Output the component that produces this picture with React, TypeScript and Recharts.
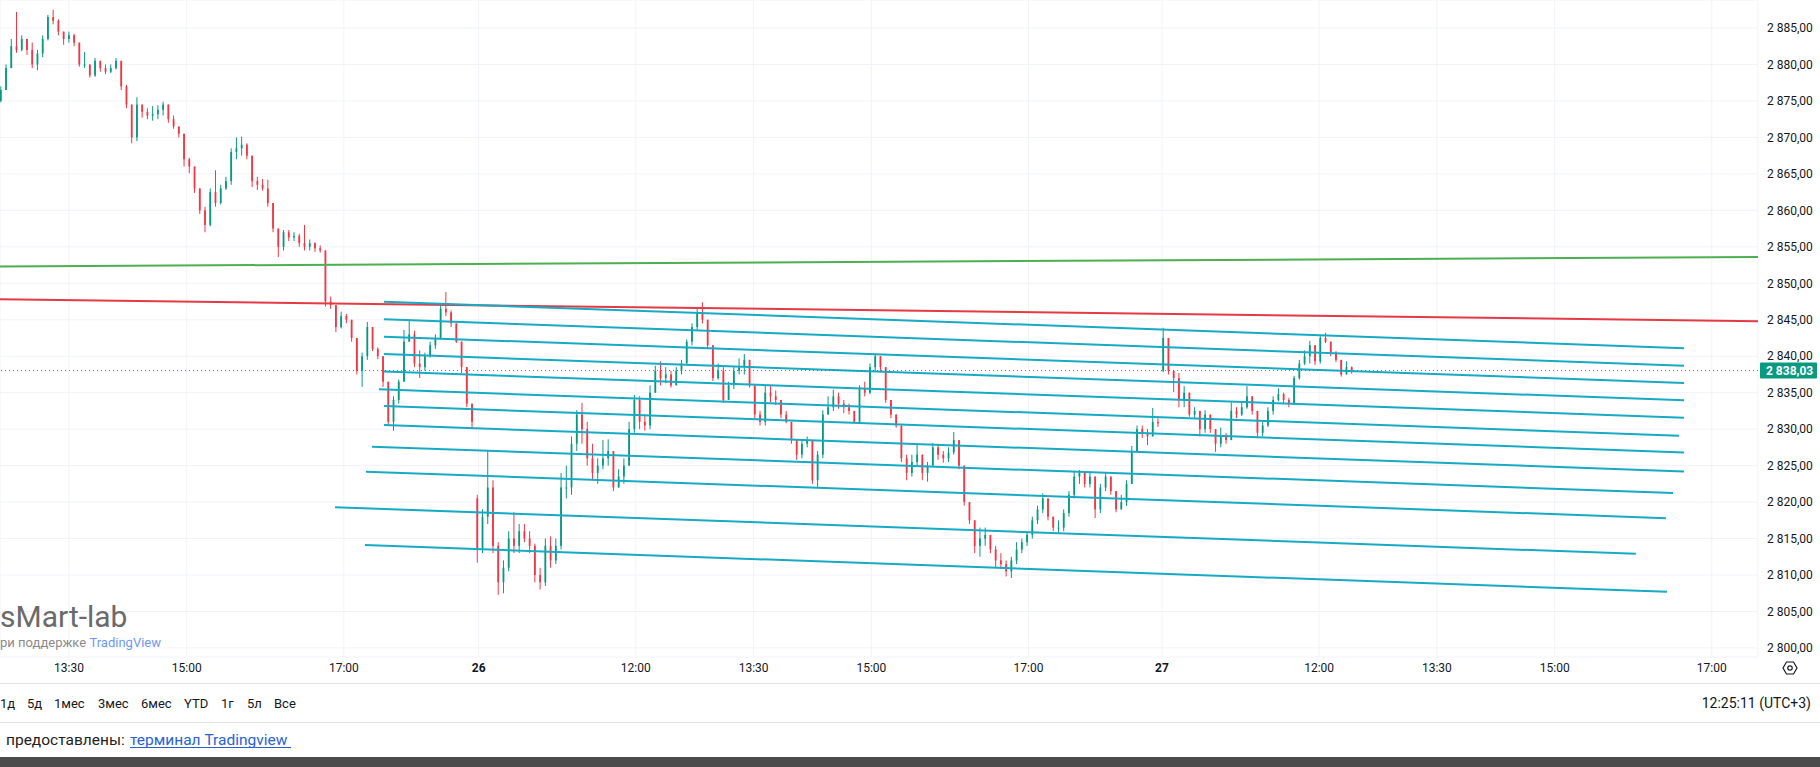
import React from 'react';
import { ComposedChart, Bar, XAxis, YAxis, CartesianGrid, ReferenceLine } from 'recharts';

// one candle every 4 trading minutes; minutes are counted from 13:30 on the 25th
const firstBarMinute = -52;
const barStepMinutes = 4;

const opens = [
  2875, 2876.5, 2879.5, 2882.5, 2882, 2883.5, 2882, 2880, 2881.5, 2883.5,
  2886.5, 2886, 2884.5, 2883.5, 2884, 2883, 2880, 2880, 2878.5, 2880.5,
  2879.5, 2879, 2879.5, 2880.5, 2877, 2874.5, 2870, 2874.5, 2873.5, 2873,
  2873.2, 2873.8, 2874.5, 2872.5, 2871.5, 2870.5, 2867, 2866, 2863, 2860,
  2858, 2862.5, 2861, 2863, 2864, 2868, 2868.5, 2869, 2867.5, 2864,
  2863.5, 2863, 2861, 2857.5, 2855, 2857, 2856.3, 2856.5, 2855.5, 2855,
  2855.5, 2854.8, 2854.5, 2847.5, 2847, 2844, 2845.5, 2845, 2842.5, 2838,
  2840, 2844, 2841, 2840, 2836.5, 2831, 2834, 2836.5, 2842, 2843,
  2839, 2838.5, 2840, 2841.5, 2842.5, 2846.5, 2846, 2844.5, 2842, 2838.5,
  2833.5, 2820.5, 2813.5, 2818, 2822, 2814, 2809, 2811, 2815, 2814,
  2816, 2815, 2814, 2810, 2809, 2814, 2812, 2814, 2822, 2822,
  2828, 2832, 2830, 2826, 2824, 2825, 2826, 2827, 2822, 2823.5,
  2825, 2830, 2834, 2831, 2830.5, 2835, 2838, 2837, 2837.5, 2836,
  2838, 2839, 2842, 2844, 2846, 2845, 2841.5, 2837, 2838, 2834,
  2836, 2838, 2838.5, 2839.5, 2836, 2832, 2831, 2835, 2834.5, 2834,
  2832, 2831, 2828.5, 2826.5, 2828, 2828.5, 2823, 2826.5, 2832, 2833,
  2834.5, 2833.5, 2833, 2832.5, 2831, 2835.5, 2835, 2838.5, 2840, 2838.5,
  2834, 2832, 2830.5, 2826, 2824, 2825.5, 2826.5, 2824, 2825, 2827.5,
  2826.5, 2826, 2826.8, 2828.5, 2825, 2820, 2817.5, 2814, 2815, 2815.5,
  2813.5, 2812, 2811.5, 2810.5, 2812, 2813.5, 2814.5, 2815.5, 2817.5, 2819,
  2820.5, 2818, 2816.5, 2816.5, 2818.5, 2821, 2823.5, 2824, 2822.5, 2823.5,
  2819, 2822, 2823.5, 2821.5, 2819, 2820, 2822.5, 2827, 2830, 2829.5,
  2829, 2831, 2838, 2842.5, 2838, 2837, 2834, 2835, 2832, 2832.5,
  2830, 2832, 2830, 2828, 2829, 2828.5, 2832.5, 2832, 2833, 2834.5,
  2832.5, 2829.5, 2830.5, 2832.5, 2834, 2834.8, 2834, 2833.5, 2837, 2839,
  2840, 2841.5, 2839.3, 2842.5, 2842, 2840.5, 2839.5, 2837.5, 2838.5,
];

const highs = [
  2877, 2880, 2883.5, 2887.2, 2884, 2883.5, 2883, 2882, 2884, 2886.8,
  2887.5, 2886.2, 2884.5, 2884.5, 2884.2, 2883, 2881.7, 2880, 2880.9, 2880.5,
  2880, 2880, 2880.9, 2880.5, 2877.2, 2874.5, 2875.5, 2874.5, 2874, 2874.3,
  2874.4, 2874.9, 2874.5, 2873, 2871.5, 2870.5, 2867.2, 2866, 2863, 2860.5,
  2863, 2865.5, 2863.5, 2864.6, 2868.5, 2870, 2870.1, 2869.2, 2867.5, 2864.6,
  2864.3, 2864.2, 2861, 2857.5, 2857.3, 2857.3, 2857, 2856.8, 2858, 2856,
  2855.6, 2855.2, 2854.5, 2848.2, 2847, 2846.1, 2845.8, 2845, 2842.5, 2840.5,
  2844.7, 2844, 2841.2, 2840, 2836.5, 2834.5, 2836.8, 2843.6, 2845, 2843.5,
  2840.8, 2840.5, 2842, 2843, 2847, 2848.8, 2846.3, 2844.5, 2842, 2838.5,
  2833.5, 2821, 2819, 2827.1, 2823, 2814.5, 2812, 2816, 2818.6, 2817,
  2817, 2816, 2814.3, 2811, 2815, 2815.3, 2815, 2824, 2825, 2829,
  2832.6, 2833.6, 2831, 2828, 2826, 2828.5, 2828.6, 2827, 2824.5, 2826,
  2831, 2834.7, 2834.5, 2832, 2836, 2838.7, 2839.3, 2838.5, 2838, 2838.5,
  2839.5, 2842.3, 2844.5, 2846.5, 2847.4, 2845, 2841.5, 2839, 2838.5, 2836.5,
  2838.5, 2839.7, 2840.3, 2839.5, 2836, 2832.5, 2836, 2836, 2835.3, 2834,
  2832.5, 2831, 2828.5, 2828.5, 2829, 2828.5, 2827, 2832.6, 2834.5, 2835.4,
  2835, 2834, 2833.5, 2832.5, 2836, 2836.5, 2839, 2840.3, 2840, 2838.5,
  2834, 2832, 2830.5, 2826.5, 2826.5, 2828.1, 2826.5, 2825.5, 2828.1, 2828,
  2827, 2827.5, 2829.6, 2828.5, 2825, 2820, 2817.5, 2816.5, 2816.5, 2815.5,
  2814, 2813, 2812, 2812.5, 2814.5, 2815, 2816, 2818, 2819.5, 2821.2,
  2820.5, 2818, 2817.5, 2819, 2821.5, 2824.2, 2824.4, 2824, 2824, 2823.5,
  2822.5, 2824, 2823.5, 2821.5, 2821, 2823, 2827.7, 2830.5, 2830.5, 2830,
  2832.9, 2831.5, 2843.9, 2842.5, 2838, 2837.7, 2835.9, 2835, 2833, 2832.5,
  2832.6, 2832, 2830, 2830.2, 2829.5, 2833.7, 2833, 2833.6, 2835.9, 2834.5,
  2832.5, 2831, 2833, 2834.5, 2835.6, 2835, 2834.3, 2837.3, 2839.5, 2840.8,
  2842.1, 2841.5, 2842.8, 2843.2, 2842, 2840.7, 2839.5, 2839.3, 2838.6,
];

const lows = [
  2874.8, 2876.5, 2879.5, 2881.6, 2881.8, 2881.3, 2879.5, 2879.2, 2881, 2883.3,
  2885.5, 2884, 2882.7, 2883, 2882.5, 2879.7, 2879.5, 2878.2, 2878.3, 2879,
  2878.7, 2878.8, 2879.3, 2876.5, 2874, 2869.2, 2869.5, 2872.7, 2872.5, 2872.3,
  2872.5, 2873, 2872, 2871.2, 2870, 2866, 2865.1, 2862.4, 2859.5, 2857,
  2857.8, 2860.5, 2860.8, 2862.8, 2863.5, 2867, 2867.5, 2867, 2863.2, 2862.8,
  2862.7, 2860.5, 2857, 2853.6, 2854.5, 2855.8, 2855.8, 2855, 2854.5, 2854.5,
  2854.3, 2854.2, 2846.8, 2846.5, 2843.3, 2843.8, 2844.5, 2842, 2837.5, 2835.8,
  2839.5, 2840.7, 2839.6, 2835.8, 2830.5, 2829.8, 2833.5, 2836.5, 2842, 2838.5,
  2837, 2838, 2839.8, 2841, 2842.3, 2845.5, 2844, 2841.8, 2837.7, 2833,
  2830.2, 2811.7, 2813, 2817, 2813, 2807.3, 2807.5, 2810.5, 2813, 2813,
  2814.5, 2813, 2809, 2808, 2808.5, 2811, 2811.5, 2813.5, 2820.5, 2821,
  2827, 2828, 2825, 2823, 2822.5, 2824.5, 2825, 2821.5, 2822, 2822.5,
  2825, 2829.5, 2830, 2829.8, 2830, 2835, 2836, 2836.3, 2835.7, 2836,
  2837.5, 2839, 2841.5, 2843.5, 2844.5, 2841, 2836.6, 2836.8, 2833.6, 2834,
  2835.5, 2837.5, 2837.5, 2835.7, 2831.5, 2830.5, 2830.5, 2833.7, 2833.3, 2831.5,
  2830.8, 2828, 2825.8, 2826, 2827.5, 2822.5, 2821.9, 2826, 2832, 2832.5,
  2832.8, 2832.2, 2832, 2830.8, 2831, 2834.5, 2834.8, 2838, 2837.8, 2833.6,
  2831.5, 2830.2, 2825.5, 2823, 2823.5, 2825, 2823, 2822.8, 2825, 2825.8,
  2825.4, 2825.5, 2826.5, 2824.5, 2819.5, 2817, 2813, 2812.5, 2814, 2813,
  2811, 2810.8, 2809.8, 2809.6, 2811.5, 2813, 2814, 2815, 2817, 2818.5,
  2817.5, 2816, 2815.8, 2816, 2818, 2820.5, 2822.5, 2822, 2822, 2817.8,
  2818.5, 2821.5, 2821, 2818.6, 2819, 2819.5, 2822.5, 2827, 2828.8, 2827.8,
  2829, 2830.3, 2837.8, 2837.5, 2835.1, 2833, 2833, 2831.7, 2831.5, 2829,
  2829.5, 2829.5, 2826.9, 2827.5, 2828, 2828.5, 2831.5, 2831.8, 2832.8, 2832,
  2828.9, 2829, 2830.3, 2832, 2833.8, 2833.5, 2833, 2833.3, 2836.8, 2838.8,
  2839, 2838.8, 2839, 2841.8, 2840, 2839.2, 2837.2, 2837.5, 2837.6,
];

const closes = [
  2876.5, 2879.5, 2882.5, 2882, 2883.5, 2882, 2880, 2881.5, 2883.5, 2886.5,
  2886, 2884.5, 2883.5, 2884, 2883, 2880, 2880, 2878.5, 2880.5, 2879.5,
  2879, 2879.5, 2880.5, 2877, 2874.5, 2870, 2874.5, 2873.5, 2873, 2873.2,
  2873.8, 2874.5, 2872.5, 2871.5, 2870.5, 2867, 2866, 2863, 2860, 2858,
  2862.5, 2861, 2863, 2864, 2868, 2868.5, 2869, 2867.5, 2864, 2863.5,
  2863, 2861, 2857.5, 2855, 2857, 2856.3, 2856.5, 2855.5, 2855, 2855.5,
  2854.8, 2854.5, 2847.5, 2847, 2844, 2845.5, 2845, 2842.5, 2838, 2840,
  2844, 2841, 2840, 2836.5, 2831, 2834, 2836.5, 2842, 2843, 2839,
  2838.5, 2840, 2841.5, 2842.5, 2846.5, 2846, 2844.5, 2842, 2838.5, 2833.5,
  2831, 2813.5, 2818, 2822, 2814, 2809, 2811, 2815, 2814, 2816,
  2815, 2814, 2810, 2809, 2814, 2812, 2814, 2822, 2822, 2828,
  2832, 2830, 2826, 2824, 2825, 2826, 2827, 2822, 2823.5, 2825,
  2830, 2834, 2831, 2830.5, 2835, 2838, 2837, 2837.5, 2836, 2838,
  2839, 2842, 2844, 2846, 2845, 2841.5, 2837, 2838, 2834, 2836,
  2838, 2838.5, 2839.5, 2836, 2832, 2831, 2835, 2834.5, 2834, 2832,
  2831, 2828.5, 2826.5, 2828, 2828.5, 2823, 2826.5, 2832, 2833, 2834.5,
  2833.5, 2833, 2832.5, 2831, 2835.5, 2835, 2838.5, 2840, 2838.5, 2834,
  2832, 2830.5, 2826, 2824, 2825.5, 2826.5, 2824, 2825, 2827.5, 2826.5,
  2826, 2826.8, 2828.5, 2825, 2820, 2817.5, 2814, 2815, 2815.5, 2813.5,
  2812, 2811.5, 2810.5, 2812, 2813.5, 2814.5, 2815.5, 2817.5, 2819, 2820.5,
  2818, 2816.5, 2816.5, 2818.5, 2821, 2823.5, 2824, 2822.5, 2823.5, 2819,
  2822, 2823.5, 2821.5, 2819, 2820, 2822.5, 2827, 2830, 2829.5, 2829,
  2831, 2830.8, 2842.5, 2838, 2837, 2834, 2835, 2832, 2832.5, 2830,
  2832, 2830, 2828, 2829, 2828.5, 2832.5, 2832, 2833, 2834.5, 2832.5,
  2829.5, 2830.5, 2832.5, 2834, 2834.8, 2834, 2833.5, 2837, 2839, 2840,
  2841.5, 2839.3, 2842.5, 2842, 2840.5, 2839.5, 2837.5, 2838.5, 2838.03,
];

const timeTickMinutes = [0, 90, 210, 313, 433, 523, 613, 733, 835, 955, 1045, 1135, 1255];
const timeTickLabels = ['13:30', '15:00', '17:00', '26', '12:00', '13:30', '15:00', '17:00', '27', '12:00', '13:30', '15:00', '17:00'];
const dayTickLabels = ['26', '27'];
const timeDomain = [-52.7, 1290.3];

const priceTicks = [2800, 2805, 2810, 2815, 2820, 2825, 2830, 2835, 2840, 2845, 2850, 2855, 2860, 2865, 2870, 2875, 2880, 2885];
const priceDomain = [2798.76, 2888.84];
const lastPrice = 2838.03;

const greenLineMinutes = [-52.7, 1290.3];
const greenLinePrices = [2852.3, 2853.6];
const redLineMinutes = [-52.7, 1290.3];
const redLinePrices = [2847.8, 2844.8];

const channelStartMinutes = [240.6, 240.6, 240.6, 240.6, 240.6, 236.8, 240.6, 240.6, 231.5, 226.9, 203.2, 226.1];
const channelEndMinutes = [1233.8, 1233.8, 1233.8, 1233.8, 1233.8, 1230, 1233.8, 1233.8, 1225.4, 1220, 1197, 1220.8];
const channelStartPrices = [2847.47, 2845.06, 2842.68, 2840.3, 2837.9, 2835.46, 2833.18, 2830.57, 2827.6, 2824.17, 2819.3, 2814.1];
const channelEndPrices = [2841.09, 2838.7, 2836.33, 2833.96, 2831.57, 2829.1, 2826.8, 2824.2, 2821.25, 2817.8, 2812.9, 2807.7];

const rangeLabels = ['1д', '5д', '1мес', '3мес', '6мес', 'YTD', '1г', '5л', 'Все'];
const rangeLabelX = [0, 27, 54, 98, 141, 184, 221, 247, 274];

const UP = '#089981';
const DOWN = '#f23645';
const CYAN = '#17aac4';
const FONT = 'Roboto, "Noto Sans", sans-serif';

const data = closes.map((c, i) => ({
  t: firstBarMinute + i * barStepMinutes,
  open: opens[i],
  high: highs[i],
  low: lows[i],
  close: c,
  range: [lows[i], highs[i]],
}));

const formatPrice = (v: number) => {
  const th = Math.floor(v / 1000);
  const rest = (v - th * 1000).toFixed(2).padStart(6, '0').replace('.', ',');
  return `${th} ${rest}`;
};

const Candle = (props: any) => {
  const { x, y, width, height, payload } = props;
  if (x == null || y == null || !payload) return null;
  const { open, close, high, low } = payload;
  const cx = x + width / 2;
  const ppu = high > low ? height / (high - low) : 0;
  const top = Math.max(open, close);
  const bot = Math.min(open, close);
  const by = y + (high - top) * ppu;
  const bh = Math.max(1, (top - bot) * ppu);
  const color = close >= open ? UP : DOWN;
  const bw = 1.8;
  return (
    <g>
      <line x1={cx} x2={cx} y1={y} y2={y + height} stroke={color} strokeWidth={1} />
      <rect x={cx - bw / 2} y={by} width={bw} height={bh} fill={color} />
    </g>
  );
};

const TimeTick = (props: any) => {
  const { x, y, payload } = props;
  const idx = timeTickMinutes.indexOf(payload.value);
  const label = idx >= 0 ? timeTickLabels[idx] : '';
  const bold = dayTickLabels.includes(label);
  return (
    <text x={x} y={y} dy="0.35em" textAnchor="middle" fill="#131722" fontSize={12} fontFamily={FONT} fontWeight={bold ? 700 : 400}>
      {label}
    </text>
  );
};

const PriceTag = (props: any) => {
  const vb = props.viewBox || {};
  const x = (vb.x ?? 0) + (vb.width ?? 0) + 2;
  const y = vb.y ?? 0;
  return (
    <g>
      <rect x={x} y={y - 8} width={57} height={16} fill={UP} rx={1} />
      <text x={x + 6} y={y} dy="0.36em" fill="#ffffff" fontSize={12} fontWeight={700} fontFamily={FONT}>
        {formatPrice(lastPrice)}
      </text>
    </g>
  );
};

export default function App() {
  return (
    <div style={{ position: 'absolute', left: 0, top: 0, width: 1820, height: 767, background: '#ffffff', overflow: 'hidden', fontFamily: FONT }}>
      <ComposedChart width={1820} height={683} data={data} margin={{ top: 0, right: 0, bottom: 0, left: 0 }}>
        <CartesianGrid stroke="#f0f3fa" strokeWidth={1} />
        <XAxis
          dataKey="t"
          type="number"
          domain={timeDomain}
          ticks={timeTickMinutes}
          interval={0}
          allowDataOverflow
          height={26}
          tickLine={false}
          axisLine={false}
          tickSize={0}
          tickMargin={11}
          tick={<TimeTick />}
        />
        <YAxis
          orientation="right"
          type="number"
          domain={priceDomain}
          ticks={priceTicks}
          interval={0}
          allowDataOverflow
          width={62}
          tickLine={false}
          axisLine={false}
          tickSize={0}
          tickMargin={9}
          tickFormatter={formatPrice}
          tick={{ fill: '#131722', fontSize: 12, fontFamily: FONT }}
        />
        <ReferenceLine
          segment={[{ x: greenLineMinutes[0], y: greenLinePrices[0] }, { x: greenLineMinutes[1], y: greenLinePrices[1] }]}
          stroke="#4caf50"
          strokeWidth={2}
          ifOverflow="visible"
        />
        <ReferenceLine
          segment={[{ x: redLineMinutes[0], y: redLinePrices[0] }, { x: redLineMinutes[1], y: redLinePrices[1] }]}
          stroke="#e53944"
          strokeWidth={2}
          ifOverflow="visible"
        />
        {channelStartMinutes.map((sm, i) => (
          <ReferenceLine
            key={`ch-${i}`}
            segment={[{ x: sm, y: channelStartPrices[i] }, { x: channelEndMinutes[i], y: channelEndPrices[i] }]}
            stroke={CYAN}
            strokeWidth={2}
            ifOverflow="visible"
          />
        ))}
        <Bar dataKey="range" barSize={3} shape={<Candle />} isAnimationActive={false} />
        <ReferenceLine y={lastPrice} stroke={UP} strokeWidth={1} strokeDasharray="1 3" ifOverflow="visible" label={<PriceTag />} />
      </ComposedChart>
      <svg width={1820} height={767} style={{ position: 'absolute', left: 0, top: 0, pointerEvents: 'none' }}>
        <text x={0} y={627} fontSize={30} fill="#6a6a6a" fontFamily={FONT}>sMart-lab</text>
        <text x={0} y={647} fontSize={13} fontFamily={FONT}>
          <tspan fill="#8a8a8a">ри поддержке </tspan>
          <tspan fill="#6f98f2">TradingView</tspan>
        </text>
        <g transform="translate(1790,668)" fill="none" stroke="#131722" strokeWidth={1.2}>
          <polygon points="-7,0 -3.5,-6 3.5,-6 7,0 3.5,6 -3.5,6" />
          <circle cx={0} cy={0} r={2.2} />
        </g>
        <line x1={0} x2={1820} y1={683.5} y2={683.5} stroke="#e0e3eb" strokeWidth={1} />
        {rangeLabels.map((lab, i) => (
          <text key={lab} x={rangeLabelX[i]} y={707.5} fontSize={13} fill="#131722" fontFamily={FONT}>{lab}</text>
        ))}
        <text x={1811} y={708} fontSize={14} fill="#131722" fontFamily={FONT} textAnchor="end">12:25:11 (UTC+3)</text>
        <line x1={0} x2={1820} y1={722.5} y2={722.5} stroke="#e0e3eb" strokeWidth={1} />
        <text x={6} y={745} fontSize={15.5} fill="#222222" fontFamily={FONT}>предоставлены:</text>
        <text x={130} y={745} fontSize={15.5} fill="#2a62d4" fontFamily={FONT}>терминал Tradingview</text>
        <line x1={130} x2={291} y1={747.5} y2={747.5} stroke="#2a62d4" strokeWidth={1} />
        <rect x={0} y={757} width={1820} height={10} fill="#4b4b4b" />
      </svg>
    </div>
  );
}
